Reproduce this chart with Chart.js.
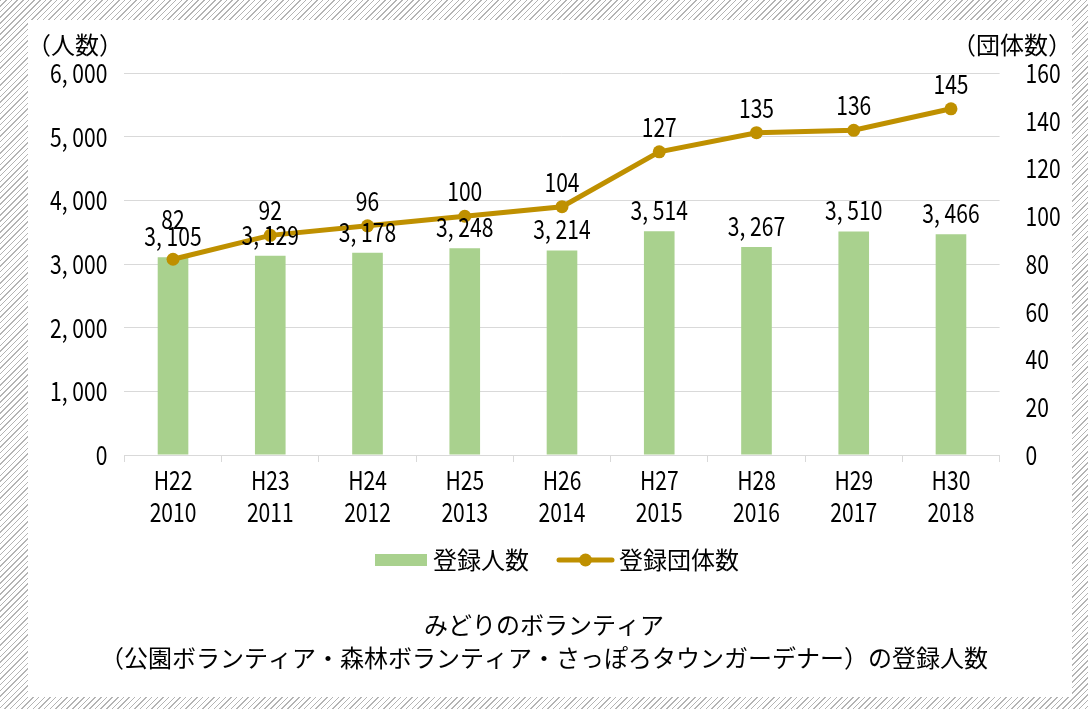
<!DOCTYPE html>
<html>
<head>
<meta charset="utf-8">
<script src="https://cdn.jsdelivr.net/npm/chart.js@4.4.1/dist/chart.umd.min.js"></script>
<style>
  html, body { margin: 0; padding: 0; }
  body {
    width: 1088px; height: 709px; position: relative; overflow: hidden;
    background: repeating-linear-gradient(135deg, #b4b4b4 0 1px, #ffffff 1px 4px);
  }
  #panel { position: absolute; left: 28px; top: 20px; width: 1044px; height: 677px; background: #fff; }
  #chart { position: absolute; left: 0; top: 0; }
</style>
</head>
<body>
<div id="panel"></div>
<canvas id="chart" width="1088" height="709"></canvas>
<script>
// データ
const categories = [
    ['H22', '2010'], ['H23', '2011'], ['H24', '2012'], ['H25', '2013'], ['H26', '2014'],
    ['H27', '2015'], ['H28', '2016'], ['H29', '2017'], ['H30', '2018']
];
const personCounts = [3105, 3129, 3178, 3248, 3214, 3514, 3267, 3510, 3466];
const groupCounts = [82, 92, 96, 100, 104, 127, 135, 136, 145];
const seriesNames = ['登録人数', '登録団体数'];
const axisUnits = ['（人数）', '（団体数）'];
const titleLines = [
    'みどりのボランティア',
    '（公園ボランティア・森林ボランティア・さっぽろタウンガーデナー）の登録人数'
];
const leftAxisRange = [0, 6000, 1000];
const rightAxisRange = [0, 160, 20];

const FONT = "'Noto Sans CJK JP', 'Noto Sans', sans-serif";
const NUM_SIZE = 26;
const CJK_SIZE = 24;
const NARROW = 0.81; // 数字は縦長の書体に見せるため横に詰める
const BAR_COLOR = '#a9d18e';
const LINE_COLOR = '#bf9000';
const GRID_COLOR = '#d9d9d9';

function fmt(v) {
    return v.toLocaleString('en-US').replace(/,/g, ', ');
}

// ASCII の文字列だけ横幅を縮めて描く
const narrowTextPlugin = {
    id: 'narrowText',
    beforeDraw(chart) {
        const ctx = chart.ctx;
        if (ctx._narrowed) return;
        ctx._narrowed = true;
        const orig = ctx.fillText.bind(ctx);
        ctx.fillText = function(text, x, y, maxWidth) {
            const s = String(text);
            if (/^[\x00-\x7f]+$/.test(s)) {
                ctx.save();
                ctx.translate(x, y);
                ctx.scale(NARROW, 1);
                if (maxWidth !== undefined) orig(s, 0, 0, maxWidth / NARROW);
                else orig(s, 0, 0);
                ctx.restore();
            } else if (maxWidth !== undefined) {
                orig(s, x, y, maxWidth);
            } else {
                orig(s, x, y);
            }
        };
    }
};

// 値ラベル・凡例・単位表示
const extrasPlugin = {
    id: 'extras',
    afterDatasetsDraw(chart) {
        const ctx = chart.ctx;
        ctx.save();
        ctx.font = NUM_SIZE + 'px ' + FONT;
        ctx.fillStyle = '#000';
        ctx.textAlign = 'center';
        ctx.textBaseline = 'middle';
        const bars = chart.getDatasetMeta(1).data;
        const pts = chart.getDatasetMeta(0).data;
        bars.forEach((bar, i) => {
            const by = bar.y - 21;
            ctx.fillText(fmt(personCounts[i]), bar.x, by);
            // 折れ線のラベルが棒のラベルと重なるときは上へずらす
            let ly = pts[i].y - 25;
            if (Math.abs(ly - by) < 20) ly = by - 17;
            ctx.fillText(String(groupCounts[i]), pts[i].x, ly);
        });
        ctx.restore();
    },
    afterDraw(chart) {
        const ctx = chart.ctx;
        ctx.save();
        ctx.font = CJK_SIZE + 'px ' + FONT;
        ctx.fillStyle = '#000';
        ctx.textBaseline = 'middle';

        // 単位
        ctx.textAlign = 'center';
        ctx.fillText(axisUnits[0], 75, 45);
        ctx.fillText(axisUnits[1], 1012, 45);

        // 凡例
        const ly = 560;
        const w1 = ctx.measureText(seriesNames[0]).width;
        const w2 = ctx.measureText(seriesNames[1]).width;
        const total = 52 + 6 + w1 + 28 + 57 + 5 + w2;
        let x = 557 - total / 2;
        ctx.fillStyle = BAR_COLOR;
        ctx.fillRect(x, ly - 6, 52, 12);
        x += 58;
        ctx.fillStyle = '#000';
        ctx.textAlign = 'left';
        ctx.fillText(seriesNames[0], x, ly);
        x += w1 + 28;
        ctx.strokeStyle = LINE_COLOR;
        ctx.lineWidth = 5;
        ctx.lineCap = 'round';
        ctx.beginPath();
        ctx.moveTo(x + 2, ly);
        ctx.lineTo(x + 55, ly);
        ctx.stroke();
        ctx.fillStyle = LINE_COLOR;
        ctx.beginPath();
        ctx.arc(x + 28.5, ly, 6.5, 0, Math.PI * 2);
        ctx.fill();
        x += 62;
        ctx.fillStyle = '#000';
        ctx.fillText(seriesNames[1], x, ly);
        ctx.restore();
    }
};

new Chart(document.getElementById('chart'), {
    type: 'bar',
    data: {
        labels: categories,
        datasets: [
            {
                type: 'line',
                label: seriesNames[1],
                data: groupCounts,
                yAxisID: 'y1',
                borderColor: LINE_COLOR,
                backgroundColor: LINE_COLOR,
                borderWidth: 5,
                pointRadius: 6.5,
                pointBackgroundColor: LINE_COLOR,
                pointBorderWidth: 0,
                tension: 0,
                order: 0
            },
            {
                type: 'bar',
                label: seriesNames[0],
                data: personCounts,
                yAxisID: 'y',
                backgroundColor: BAR_COLOR,
                barPercentage: 0.315,
                categoryPercentage: 1,
                order: 1
            }
        ]
    },
    options: {
        responsive: false,
        animation: false,
        layout: { padding: { top: 73, bottom: 34.5, left: 0, right: 0 } },
        plugins: {
            legend: { display: false },
            tooltip: { enabled: false },
            title: {
                display: true,
                position: 'bottom',
                align: 'center',
                text: titleLines,
                color: '#000',
                font: { family: FONT, size: CJK_SIZE, weight: 'normal', lineHeight: 1.375 },
                padding: 0
            }
        },
        scales: {
            x: {
                offset: true,
                grid: { offset: true, drawOnChartArea: false, drawTicks: true, tickLength: 7, color: GRID_COLOR },
                border: { color: GRID_COLOR },
                ticks: { color: '#000', font: { family: FONT, size: NUM_SIZE, lineHeight: 1.23 }, padding: 2, maxRotation: 0, autoSkip: false },
                afterFit(scale) { scale.height = 153.5; }
            },
            y: {
                position: 'left',
                min: leftAxisRange[0],
                max: leftAxisRange[1],
                grid: { color: GRID_COLOR, drawTicks: false },
                border: { display: false },
                ticks: {
                    stepSize: leftAxisRange[2],
                    color: '#000',
                    padding: 17,
                    font: { family: FONT, size: NUM_SIZE },
                    callback: v => fmt(v)
                },
                afterFit(scale) { scale.width = 124.4; }
            },
            y1: {
                position: 'right',
                min: rightAxisRange[0],
                max: rightAxisRange[1],
                grid: { display: false },
                border: { display: false },
                ticks: {
                    stepSize: rightAxisRange[2],
                    color: '#000',
                    padding: 18,
                    font: { family: FONT, size: NUM_SIZE }
                },
                afterFit(scale) { scale.width = 88.4; }
            }
        }
    },
    plugins: [narrowTextPlugin, extrasPlugin]
});
</script>
</body>
</html>
